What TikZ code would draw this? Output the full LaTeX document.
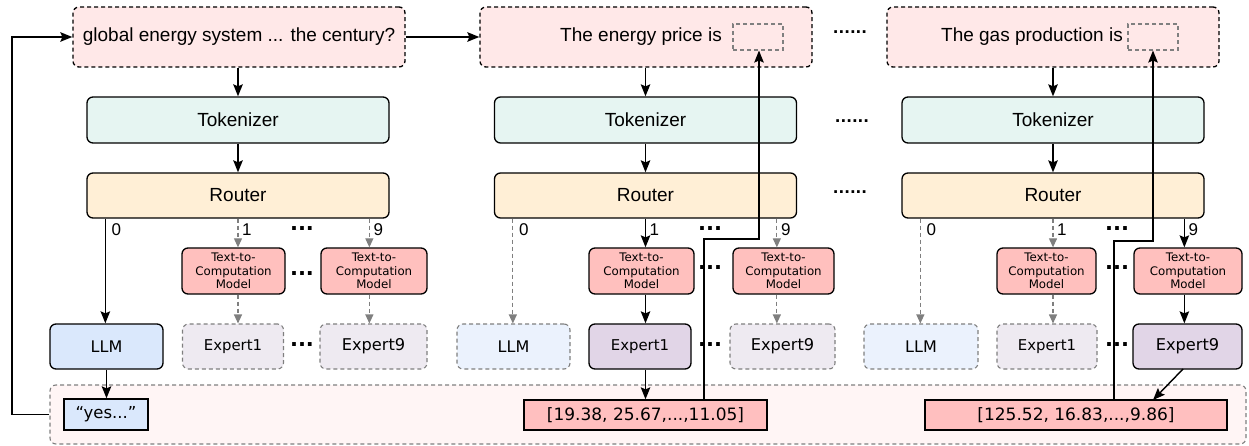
\documentclass[tikz,border=0pt]{standalone}
\usepackage{fontspec}
\setmainfont{Liberation Sans}
\newfontfamily\vfont{DejaVu Sans}
\usetikzlibrary{arrows.meta}

\definecolor{qfill}{HTML}{FFE8E8}
\definecolor{tokfill}{HTML}{E6F5F2}
\definecolor{roufill}{HTML}{FFEFD6}
\definecolor{tcfill}{HTML}{FFC0BE}
\definecolor{llmfill}{HTML}{DAE8FC}
\definecolor{llmoff}{HTML}{EBF2FD}
\definecolor{expfill}{HTML}{E1D5E7}
\definecolor{expoff}{HTML}{EEEAF1}
\definecolor{panelfill}{HTML}{FFF5F5}
\definecolor{resfill}{HTML}{FFBFBF}
\definecolor{offline}{HTML}{7F7F7F}

\tikzset{
  box/.style={draw=black, line width=1.3pt, rounded corners=6pt, inner sep=0pt, align=center},
  offbox/.style={box, draw=offline, line width=1.1pt, dash pattern=on 4pt off 3pt},
  query/.style={box, fill=qfill, dash pattern=on 4pt off 3pt, minimum width=332pt, minimum height=60pt, font=\fontsize{19}{22}\selectfont},
  blank/.style={draw=offline, line width=1.1pt, dash pattern=on 4pt off 3pt, fill=qfill, inner sep=0pt, minimum width=50pt, minimum height=26pt},
  tokbox/.style={box, fill=tokfill, minimum width=302pt, minimum height=46pt, font=\fontsize{19}{22}\selectfont},
  roubox/.style={box, fill=roufill, minimum width=302pt, minimum height=45pt, font=\fontsize{19}{22}\selectfont},
  tcbox/.style={box, fill=tcfill, minimum height=46pt, font=\vfont\fontsize{11.8}{13.3}\selectfont},
  llmon/.style={box, fill=llmfill, minimum height=45pt, font=\vfont\fontsize{16}{19}\selectfont},
  llmout/.style={offbox, fill=llmoff, minimum height=45pt, font=\vfont\fontsize{16}{19}\selectfont},
  expon/.style={box, fill=expfill, minimum height=45pt},
  expout/.style={offbox, fill=expoff, minimum height=45pt},
  resbox/.style={draw=black, line width=1.3pt, fill=resfill, inner sep=0pt, minimum height=30pt, font=\vfont\fontsize{17}{20}\selectfont},
  ex1/.style={font=\vfont\fontsize{14.9}{18}\selectfont},
  ex9/.style={font=\vfont\fontsize{16.2}{19}\selectfont},
  arr/.style={draw=black, line width=1.4pt, -{Stealth[inset=2pt, length=12pt, width=9.5pt]}},
  offarr/.style={draw=offline, line width=1.1pt, dash pattern=on 4pt off 3pt, -{Triangle[length=9pt, width=8pt]}},
  lab/.style={anchor=west, inner sep=0pt, font=\fontsize{17}{20}\selectfont},
  dots/.style={inner sep=0pt, font=\vfont\bfseries\fontsize{21}{22}\selectfont},
  wdots/.style={inner sep=0pt, font=\vfont\bfseries\fontsize{15}{16}\selectfont},
}

\begin{document}
\begin{tikzpicture}[x=1pt, y=-1pt]
\useasboundingbox (0,0) rectangle (1249,446);

% bottom panel holding the outputs
\node[draw=offline, line width=1.1pt, dash pattern=on 4pt off 3pt, rounded corners=6pt,
      fill=panelfill, minimum width=1196pt, minimum height=59pt, inner sep=0pt] (panel) at (648,414.5) {};

% ---------- prompts ----------
\node[query] (q1) at (239,37) {global energy system ... the century?};
\node[query] (q2) at (646,37) {};
\node[query] (q3) at (1053,37) {};
\node[anchor=east, inner sep=0pt, font=\fontsize{19}{22}\selectfont] (q2t) at (722,37) {The energy price is};
\node[anchor=east, inner sep=0pt, font=\fontsize{19}{22}\selectfont] (q3t) at (1123,37) {The gas production is};
\node[blank] (b2) at (758,37) {};
\node[blank] (b3) at (1153,37) {};

% ---------- tokenizers and routers ----------
\node[tokbox] (tok1) at (238,120) {Tokenizer};
\node[tokbox] (tok2) at (645.5,120) {Tokenizer};
\node[tokbox] (tok3) at (1053,120) {Tokenizer};
\node[roubox] (rou1) at (238,195.5) {Router};
\node[roubox] (rou2) at (645.5,195.5) {Router};
\node[roubox] (rou3) at (1053,195.5) {Router};

% ---------- column 1: route 0 ----------
\node[llmon, minimum width=113pt] (llm1) at (106.5,346.5) {LLM};
\node[tcbox, minimum width=103pt] (tc1a) at (233.5,271) {Text-to-\\Computation\\Model};
\node[tcbox, minimum width=106pt] (tc1b) at (374,271) {Text-to-\\Computation\\Model};
\node[expout, ex1, minimum width=101pt] (ex1a) at (233,346.5) {Expert1};
\node[expout, ex9, minimum width=107pt] (ex1b) at (373.5,346.5) {Expert9};
\node[draw=black, line width=1.3pt, fill=llmfill, inner sep=0pt, minimum width=84pt, minimum height=31pt,
      font=\vfont\fontsize{16.5}{19}\selectfont] (yes) at (106,414.5) {“yes...”};

% ---------- column 2: route 1 ----------
\node[llmout, minimum width=113pt] (llm2) at (513.5,346.5) {LLM};
\node[tcbox, minimum width=105pt] (tc2a) at (641.5,271) {Text-to-\\Computation\\Model};
\node[tcbox, minimum width=101pt] (tc2b) at (783.5,271) {Text-to-\\Computation\\Model};
\node[expon, ex1, minimum width=102pt] (ex2a) at (640,346.5) {Expert1};
\node[expout, ex9, minimum width=105pt] (ex2b) at (782.5,346.5) {Expert9};
\node[resbox, minimum width=243pt] (res2) at (645.5,415) {[19.38, 25.67,...,11.05]};

% ---------- column 3: route 9 ----------
\node[llmout, minimum width=114pt] (llm3) at (921,346.5) {LLM};
\node[tcbox, minimum width=99pt] (tc3a) at (1046.5,271) {Text-to-\\Computation\\Model};
\node[tcbox, minimum width=108pt] (tc3b) at (1188,271) {Text-to-\\Computation\\Model};
\node[expout, ex1, minimum width=100pt] (ex3a) at (1047,346.5) {Expert1};
\node[expon, ex9, minimum width=109pt] (ex3b) at (1187.5,346.5) {Expert9};
\node[resbox, minimum width=302pt] (res3) at (1076,415) {[125.52, 16.83,...,9.86]};

% ---------- router exits ----------
\foreach \c in {1,2,3}{
  \coordinate (r\c z) at ([xshift=19pt]rou\c.south west);
  \coordinate (r\c o) at (rou\c.south);
  \coordinate (r\c n) at ([xshift=283pt]rou\c.south west);
  \node[lab] (l\c z) at ([xshift=6pt, yshift=-11pt]r\c z) {0};
  \node[lab] (l\c o) at ([xshift=4pt, yshift=-11pt]r\c o) {1};
  \node[lab] (l\c n) at ([xshift=4pt, yshift=-11pt]r\c n) {9};
  \draw[arr] (q\c.south -| tok\c) -- (tok\c.north);
  \draw[arr] (tok\c.south) -- (rou\c.north);
}

% column 1
\draw[arr] (r1z) -- (r1z |- llm1.north);
\draw[offarr] (r1o) -- (r1o |- tc1a.north);
\draw[offarr] (r1n) -- (r1n |- tc1b.north);
\draw[offarr] (tc1a.south -| r1o) -- (ex1a.north -| r1o);
\draw[offarr] (tc1b.south -| r1n) -- (ex1b.north -| r1n);
\draw[arr] (llm1.south) -- (yes.north -| llm1);

% column 2
\draw[offarr] (r2z) -- (r2z |- llm2.north);
\draw[arr] (r2o) -- (r2o |- tc2a.north);
\draw[offarr] (r2n) -- (r2n |- tc2b.north);
\draw[arr] (tc2a.south -| r2o) -- (ex2a.north -| r2o);
\draw[offarr] (tc2b.south -| r2n) -- (ex2b.north -| r2n);
\draw[arr] (ex2a.south -| r2o) -- (res2.north -| r2o);

% column 3
\draw[offarr] (r3z) -- (r3z |- llm3.north);
\draw[offarr] (r3o) -- (r3o |- tc3a.north);
\draw[arr] (r3n) -- (r3n |- tc3b.north);
\draw[offarr] (tc3a.south -| r3o) -- (ex3a.north -| r3o);
\draw[arr] (tc3b.south -| r3n) -- (ex3b.north -| r3n);
\coordinate (e3out) at (1183,369);
\coordinate (r3in) at (1153,400);
\draw[arr] (e3out) -- (r3in);

% ---------- feedback paths ----------
\coordinate (loop) at (12,414.5);
\draw[arr] (panel.west) -- (loop) |- (q1.west);
\draw[arr] (q1.east) -- (q2.west);

\coordinate (k2a) at (704,239);
\coordinate (k2b) at (759,239);
\draw[arr] (res2.north -| k2a) -- (k2a) -- (k2b) -- (b2.south -| k2b);

\coordinate (k3a) at (1114,241);
\coordinate (k3b) at (1153,241);
\draw[arr] (res3.north -| k3a) -- (k3a) -- (k3b) -- (b3.south -| k3b);

% ---------- ellipses ----------
\node[dots] (d1a) at (302,229) {...};
\node[dots] (d1b) at (302,274) {...};
\node[dots] (d1c) at (302,345) {...};
\node[dots] (d2a) at (710,229) {...};
\node[dots] (d2b) at (710,268) {...};
\node[dots] (d2c) at (710,345) {...};
\node[dots] (d3a) at (1117,229) {...};
\node[dots] (d3b) at (1117,268) {...};
\node[dots] (d3c) at (1117,345) {...};
\node[wdots] (w1) at (850,32) {......};
\node[wdots] (w2) at (852,121) {......};
\node[wdots] (w3) at (850,192) {......};
\end{tikzpicture}
\end{document}
